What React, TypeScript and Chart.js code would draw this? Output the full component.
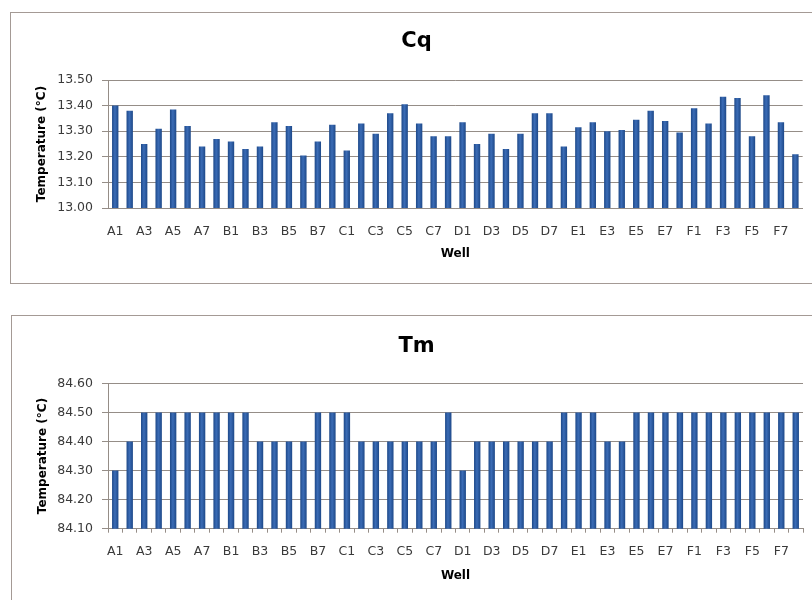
import React, { useEffect, useRef } from 'react';
import { Chart, registerables } from 'chart.js';

Chart.register(...registerables);

const wells = [
  'A1', 'A2', 'A3', 'A4', 'A5', 'A6', 'A7', 'A8',
  'B1', 'B2', 'B3', 'B4', 'B5', 'B6', 'B7', 'B8',
  'C1', 'C2', 'C3', 'C4', 'C5', 'C6', 'C7', 'C8',
  'D1', 'D2', 'D3', 'D4', 'D5', 'D6', 'D7', 'D8',
  'E1', 'E2', 'E3', 'E4', 'E5', 'E6', 'E7', 'E8',
  'F1', 'F2', 'F3', 'F4', 'F5', 'F6', 'F7', 'F8',
];

const shownLabels = [
  'A1', 'A3', 'A5', 'A7', 'B1', 'B3', 'B5', 'B7',
  'C1', 'C3', 'C5', 'C7', 'D1', 'D3', 'D5', 'D7',
  'E1', 'E3', 'E5', 'E7', 'F1', 'F3', 'F5', 'F7',
];

const cqValues = [
  13.40, 13.38, 13.25, 13.31, 13.385, 13.32, 13.24, 13.27,
  13.26, 13.23, 13.24, 13.335, 13.32, 13.205, 13.26, 13.325,
  13.225, 13.33, 13.29, 13.37, 13.405, 13.33, 13.28, 13.28,
  13.335, 13.25, 13.29, 13.23, 13.29, 13.37, 13.37, 13.24,
  13.315, 13.335, 13.30, 13.305, 13.345, 13.38, 13.34, 13.295,
  13.39, 13.33, 13.435, 13.43, 13.28, 13.44, 13.335, 13.21,
];

const tmValues = [
  84.3, 84.4, 84.5, 84.5, 84.5, 84.5, 84.5, 84.5,
  84.5, 84.5, 84.4, 84.4, 84.4, 84.4, 84.5, 84.5,
  84.5, 84.4, 84.4, 84.4, 84.4, 84.4, 84.4, 84.5,
  84.3, 84.4, 84.4, 84.4, 84.4, 84.4, 84.4, 84.5,
  84.5, 84.5, 84.4, 84.4, 84.5, 84.5, 84.5, 84.5,
  84.5, 84.5, 84.5, 84.5, 84.5, 84.5, 84.5, 84.5,
];

const cqRange = [13.0, 13.5];
const tmRange = [84.1, 84.6];

const BAR = '#2b5ca3';
const BAR_EDGE = '#1d4888';
const BAR_MID = '#3b6cb6';
const GRID = '#958d87';
const TICK = '#3a3a3a';
const FONT = "'DejaVu Sans', sans-serif";
const BAR_FRACTION = 0.44;

type PanelProps = {
  title: string;
  values: number[];
  range: number[];
  width: number;
  height: number;
  titlePad: { top: number; bottom: number };
  xHeight: number;
  xTicks: boolean;
  xTickPad: number;
  wellPad: number;
  yTitlePad: number;
};

function barFill(c: any) {
  const chart = c.chart;
  const xs = chart.scales && chart.scales.x;
  if (!xs || !chart.chartArea || typeof c.dataIndex !== 'number') return BAR;
  const cx = xs.getPixelForValue(c.dataIndex);
  const cw = (xs.width / wells.length) * BAR_FRACTION;
  if (!isFinite(cx) || !isFinite(cw) || cw <= 0) return BAR;
  const g = chart.ctx.createLinearGradient(cx - cw / 2, 0, cx + cw / 2, 0);
  g.addColorStop(0, BAR_EDGE);
  g.addColorStop(0.45, BAR_MID);
  g.addColorStop(1, BAR_EDGE);
  return g;
}

function Panel(p: PanelProps) {
  const ref = useRef<HTMLCanvasElement | null>(null);
  useEffect(() => {
    if (!ref.current) return;
    const chart = new Chart(ref.current, {
      type: 'bar',
      data: {
        labels: wells,
        datasets: [
          {
            data: p.values,
            backgroundColor: barFill,
            borderWidth: 0,
            barPercentage: BAR_FRACTION,
            categoryPercentage: 1,
          },
        ],
      },
      options: {
        responsive: false,
        animation: false,
        layout: { padding: { left: 30, right: 9, top: 0, bottom: 0 } },
        plugins: {
          legend: { display: false },
          tooltip: { enabled: false },
          title: {
            display: true,
            text: p.title,
            color: '#000',
            font: { family: FONT, size: 21, weight: 'bold' },
            padding: p.titlePad,
          },
        },
        scales: {
          x: {
            offset: true,
            grid: {
              display: true,
              drawOnChartArea: false,
              drawTicks: p.xTicks,
              tickLength: 4,
              offset: true,
              color: GRID,
            },
            border: { display: true, color: GRID },
            ticks: {
              autoSkip: false,
              maxRotation: 0,
              minRotation: 0,
              padding: p.xTickPad,
              color: TICK,
              font: { family: FONT, size: 12.5 },
              callback: (_v: any, i: number) => (shownLabels.includes(wells[i]) ? wells[i] : ''),
            },
            title: {
              display: true,
              text: 'Well',
              color: '#000',
              font: { family: FONT, size: 12, weight: 'bold' },
              padding: { top: 0, bottom: p.wellPad },
            },
            afterFit: (s: any) => {
              s.height = p.xHeight;
            },
          },
          y: {
            min: p.range[0],
            max: p.range[1],
            grid: { color: GRID, drawTicks: true, tickLength: 6 },
            border: { display: true, color: GRID },
            ticks: {
              stepSize: 0.1,
              padding: 9,
              color: TICK,
              font: { family: FONT, size: 12.5 },
              callback: (v: any) => Number(v).toFixed(2),
            },
            title: {
              display: true,
              text: 'Temperature (°C)',
              color: '#000',
              font: { family: FONT, size: 12, weight: 'bold' },
              padding: { top: p.yTitlePad, bottom: 0 },
            },
            afterFit: (s: any) => {
              s.width = 78;
            },
          },
        },
      },
    } as any);
    return () => chart.destroy();
  }, []);
  return <canvas ref={ref} width={p.width} height={p.height} style={{ display: 'block' }} />;
}

export default function App() {
  return (
    <div>
      <div
        style={{
          position: 'absolute',
          left: 10,
          top: 12,
          width: 802,
          height: 272,
          boxSizing: 'border-box',
          border: '1px solid #a49a95',
          borderRight: 'none',
        }}
      />
      <div
        style={{
          position: 'absolute',
          left: 11,
          top: 315,
          width: 801,
          height: 285,
          boxSizing: 'border-box',
          border: '1px solid #a49a95',
          borderRight: 'none',
          borderBottom: 'none',
        }}
      />
      <div style={{ position: 'absolute', left: 0, top: 0 }}>
        <Panel
          title="Cq"
          values={cqValues}
          range={cqRange}
          width={812}
          height={290}
          titlePad={{ top: 29.4, bottom: 25.4 }}
          xHeight={82}
          xTicks={false}
          xTickPad={16.5}
          wellPad={28.8}
          yTitlePad={4.8}
        />
      </div>
      <div style={{ position: 'absolute', left: 0, top: 300 }}>
        <Panel
          title="Tm"
          values={tmValues}
          range={tmRange}
          width={812}
          height={300}
          titlePad={{ top: 33.9, bottom: 24.2 }}
          xHeight={71.3}
          xTicks={true}
          xTickPad={11.5}
          wellPad={16.8}
          yTitlePad={5.8}
        />
      </div>
    </div>
  );
}
